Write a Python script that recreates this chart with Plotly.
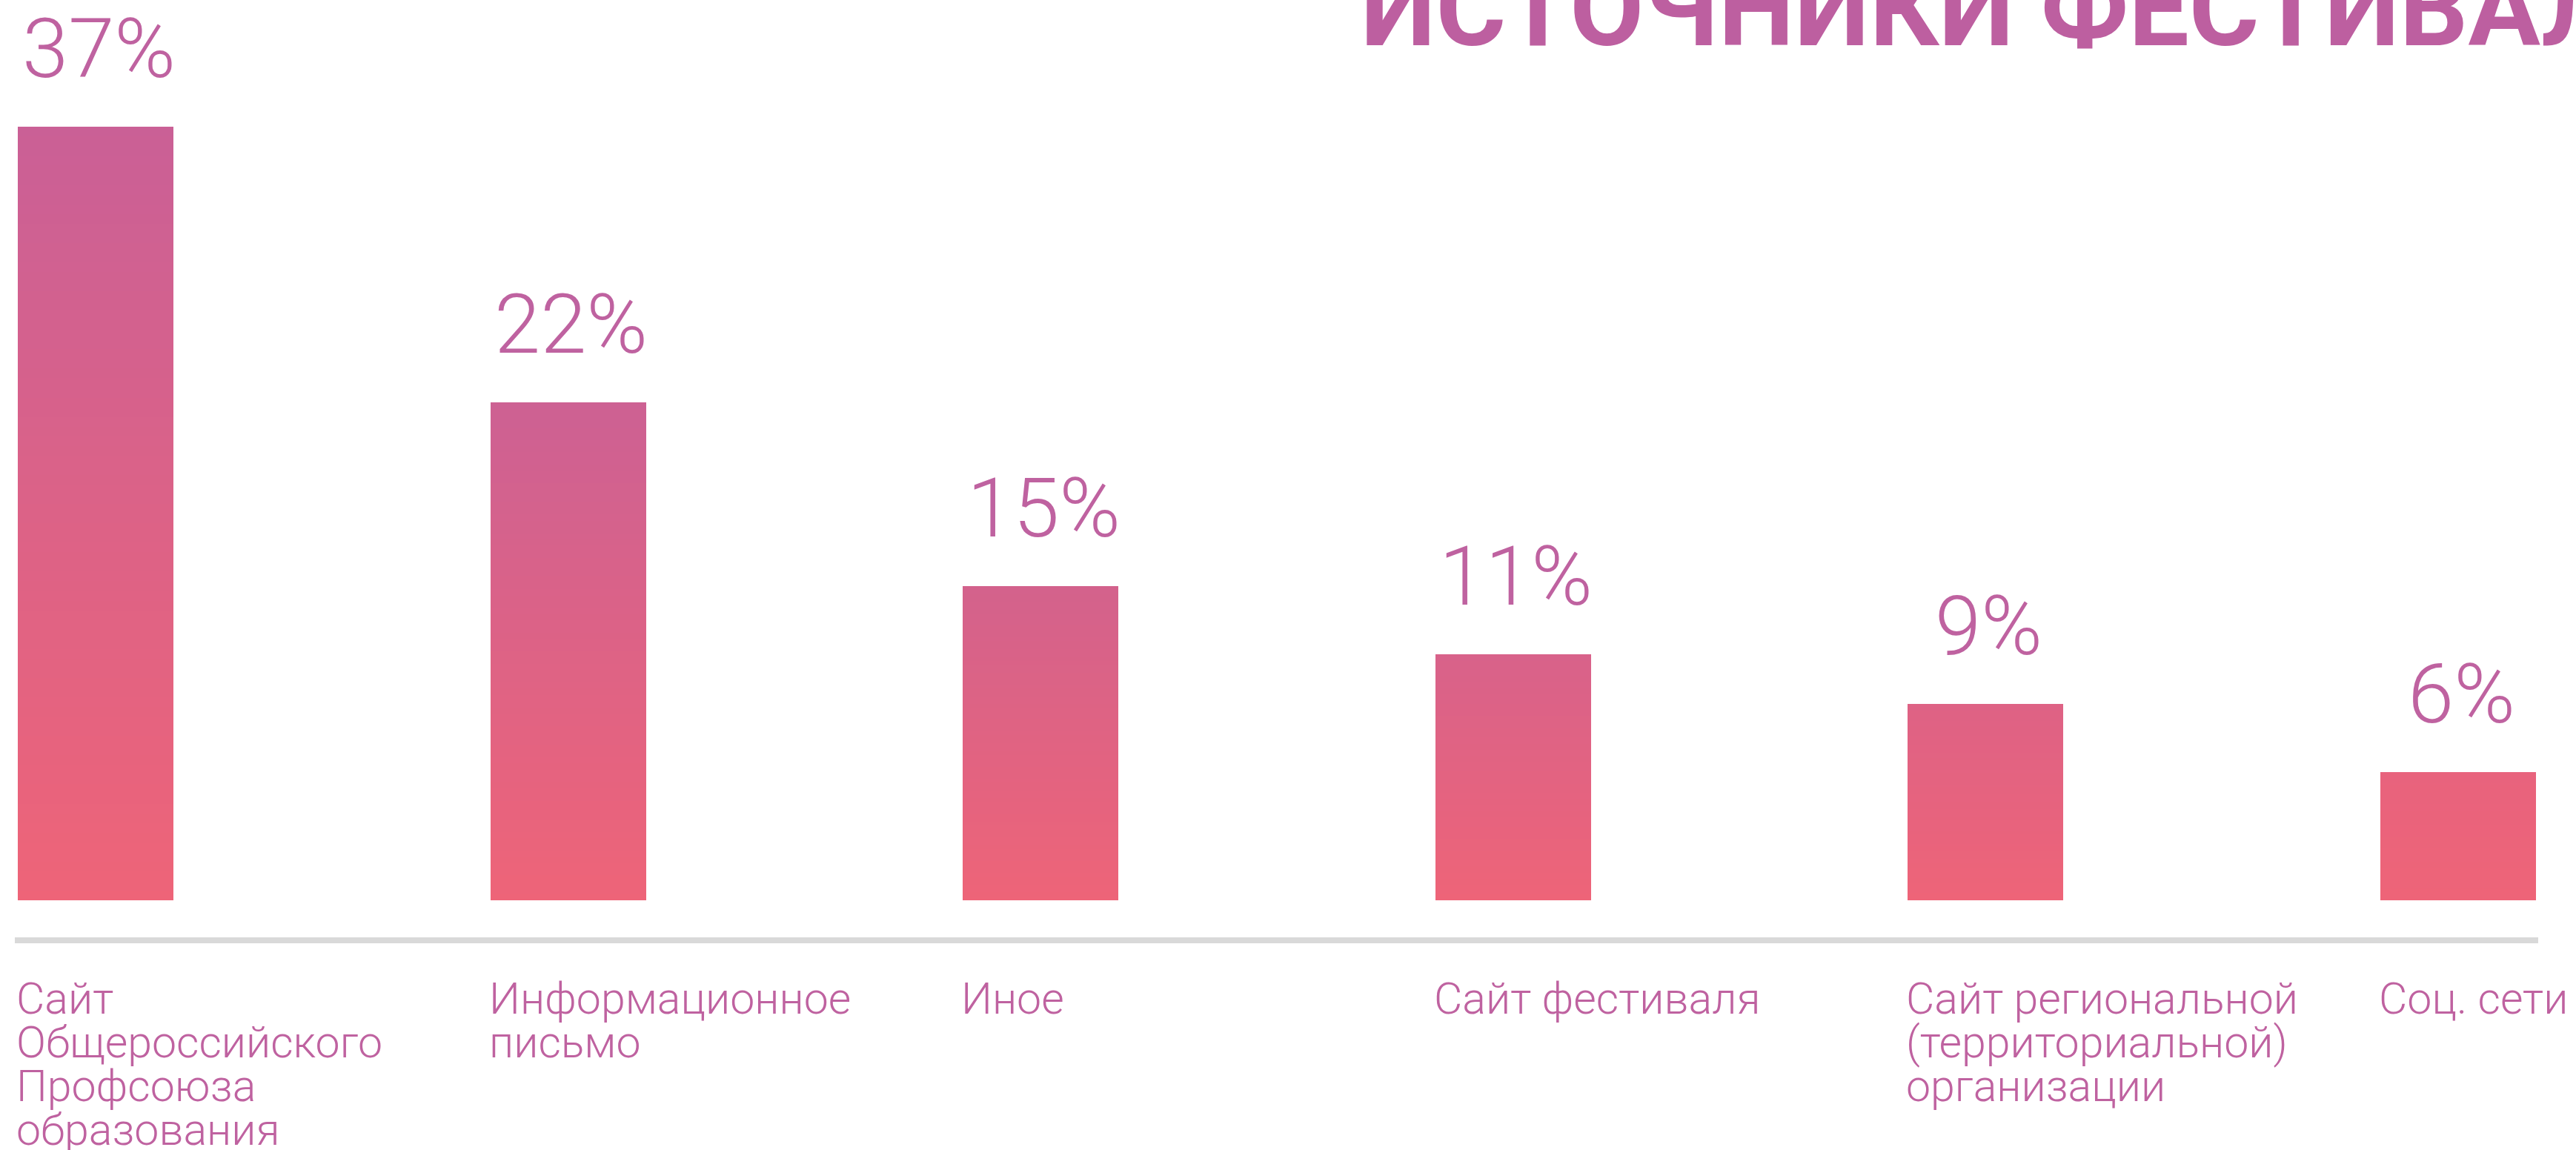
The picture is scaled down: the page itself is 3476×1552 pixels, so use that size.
import plotly.graph_objects as go

# ---------------- data ----------------
categories = [
    "Сайт\nОбщероссийского\nПрофсоюза\nобразования",
    "Информационное\nписьмо",
    "Иное",
    "Сайт фестиваля",
    "Сайт региональной\n(территориальной)\nорганизации",
    "Соц. сети",
]
# bar heights (percent scale)
values = [36.2, 23.3, 14.7, 11.5, 9.2, 6.0]
value_labels = ["37%", "22%", "15%", "11%", "9%", "6%"]
title_text = "ИСТОЧНИКИ ФЕСТИВАЛЯ"

# ---------------- style ----------------
bar_top_colors = ["#ca6096", "#cd6193", "#d3628c", "#d8628a", "#de6285", "#e8637d"]
bar_bottom_color = "#ee6478"
text_color = "#bf62a0"
title_color = "#bd5fa0"
bar_width = 0.3294
n_steps = 80

W, H = 3476, 1552
ML, MR, MT, MB = 20, 51, 0, 287
x_range = [-0.171, 5.1693]
y_range = [-1.734, 42.14]


def hex_to_rgb(h):
    h = h.lstrip("#")
    return tuple(int(h[i:i + 2], 16) for i in (0, 2, 4))


def lerp_color(c0, c1, t):
    a, b = hex_to_rgb(c0), hex_to_rgb(c1)
    return "rgb(%d,%d,%d)" % tuple(round(a[j] + (b[j] - a[j]) * t) for j in range(3))


xs = list(range(len(values)))

fig = go.Figure()

# gradient bars: overlay of progressively shorter bars
for k in range(n_steps, 0, -1):
    frac = k / n_steps
    tmid = (k - 0.5) / n_steps
    fig.add_trace(go.Bar(
        x=xs,
        y=[v * frac for v in values],
        width=bar_width,
        marker=dict(color=[lerp_color(bar_bottom_color, tc, tmid) for tc in bar_top_colors],
                    line=dict(width=0)),
        hoverinfo="skip",
        showlegend=False,
    ))

annotations = []
# value labels
for x, v, lab in zip(xs, values, value_labels):
    annotations.append(dict(
        x=x, y=v, xref="x", yref="y", text=lab, showarrow=False,
        xanchor="center", yanchor="bottom", yshift=38, xshift=4,
        font=dict(family="Roboto", size=112, color=text_color, weight=300),
    ))

# category labels (one annotation per line, tight line spacing)
line_step = 59
first_baseline_offset = 119
for x, cat in zip(xs, categories):
    for li, line in enumerate(cat.split("\n")):
        annotations.append(dict(
            x=x - bar_width / 2, y=0, xref="x", yref="paper", text=line,
            showarrow=False, xanchor="left", yanchor="bottom",
            xshift=-4, yshift=-(first_baseline_offset + li * line_step),
            font=dict(family="Roboto", size=59, color=text_color, weight=300),
        ))

# title (partially cut off at the top)
annotations.append(dict(
    x=0.5328, y=1, xref="paper", yref="paper", text="<b>" + title_text + "</b>",
    showarrow=False, xanchor="left", yanchor="bottom", yshift=-98,
    font=dict(family="Roboto", size=145, color=title_color),
))

fig.update_layout(
    width=W, height=H,
    margin=dict(l=ML, r=MR, t=MT, b=MB, pad=0),
    paper_bgcolor="white", plot_bgcolor="white",
    barmode="overlay", bargap=0,
    showlegend=False,
    annotations=annotations,
    xaxis=dict(range=x_range, showgrid=False, zeroline=False, showticklabels=False,
               ticks="", showline=True, linecolor="#d9d9d9", linewidth=8,
               fixedrange=True),
    yaxis=dict(range=y_range, visible=False, showgrid=False, zeroline=False,
               fixedrange=True),
)

fig.write_html(
    "out.html",
    config={"displayModeBar": False},
    post_script="document.body.style.margin='0';document.body.style.overflow='hidden';",
)
